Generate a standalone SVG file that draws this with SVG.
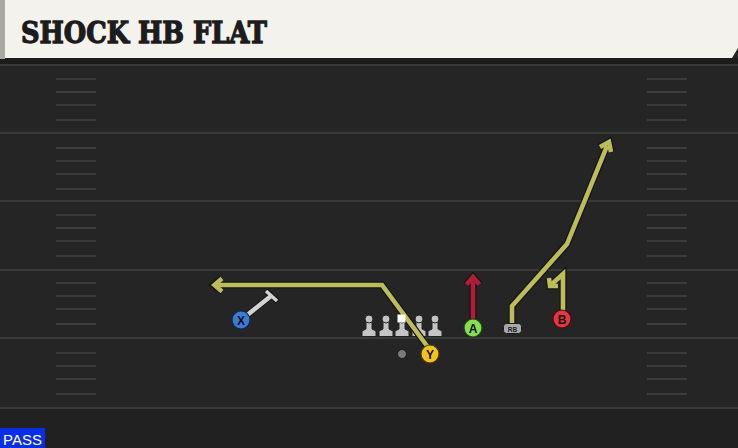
<svg xmlns="http://www.w3.org/2000/svg" width="738" height="448" viewBox="0 0 738 448">
<defs>
<style>
.yard{stroke:#3a3a3a;stroke-width:2}
.hash{stroke:#3b3b3b;stroke-width:2}
.route-o{fill:none;stroke:#141414;stroke-width:7;stroke-linejoin:miter;stroke-linecap:butt}
.route{fill:none;stroke:#bcbc5a;stroke-width:4.6;stroke-linejoin:miter;stroke-linecap:butt}
.lbl{font-family:"Liberation Sans",Arial,sans-serif;font-weight:bold;font-size:12px;fill:#111;text-anchor:middle}
.ol{fill:#c4c4c4;stroke:#222;stroke-width:1}
</style>
<g id="hashset">
<line class="hash" x1="0" y1="0" x2="40" y2="0"/>
<line class="hash" x1="0" y1="13" x2="40" y2="13"/>
<line class="hash" x1="0" y1="26" x2="40" y2="26"/>
<line class="hash" x1="0" y1="41" x2="40" y2="41"/>
</g>
<g id="lineman">
<path d="M-3,-12 L3,-12 L3,-4 L7,-2 L7,3.5 L-7,3.5 L-7,-2 L-3,-4 Z" class="ol"/>
<circle cx="0" cy="-14" r="4" class="ol"/>
</g>
</defs>
<rect width="738" height="448" fill="#252525"/>
<rect y="408" width="738" height="40" fill="#212121"/>
<rect y="58" width="738" height="7" fill="#1c1c1c"/>
<path d="M0,0 H738 V48 L732,58 H0 Z" fill="#f4f2ec"/>
<rect x="0" y="0" width="5" height="59" fill="#a9a9a6"/>
<text x="21" y="43" font-family="'DejaVu Serif',serif" font-weight="900" font-size="29" fill="#1c1c1c" stroke="#1c1c1c" stroke-width="1.3" textLength="246" lengthAdjust="spacingAndGlyphs">SHOCK HB FLAT</text>
<g id="field">
<line class="yard" x1="0" y1="65" x2="738" y2="65"/>
<line class="yard" x1="0" y1="133" x2="738" y2="133"/>
<line class="yard" x1="0" y1="201" x2="738" y2="201"/>
<line class="yard" x1="0" y1="270" x2="738" y2="270"/>
<line class="yard" x1="0" y1="338" x2="738" y2="338"/>
<line class="yard" x1="0" y1="408" x2="738" y2="408"/>
<use href="#hashset" x="56" y="79"/>
<use href="#hashset" x="56" y="148"/>
<use href="#hashset" x="56" y="215"/>
<use href="#hashset" x="56" y="283"/>
<use href="#hashset" x="56" y="353"/>
<use href="#hashset" x="647" y="79"/>
<use href="#hashset" x="647" y="148"/>
<use href="#hashset" x="647" y="215"/>
<use href="#hashset" x="647" y="283"/>
<use href="#hashset" x="647" y="353"/>
</g>
<g id="line">
<use href="#lineman" x="369" y="333"/>
<use href="#lineman" x="386" y="333"/>
<use href="#lineman" x="402" y="333"/>
<use href="#lineman" x="419" y="333"/>
<use href="#lineman" x="435" y="333"/>
</g>
<g id="connectors">
<g id="route-x">
<line x1="246" y1="316" x2="271" y2="296" stroke="#141414" stroke-width="6.5"/>
<line x1="265.5" y1="290.5" x2="277.5" y2="301.5" stroke="#141414" stroke-width="5.5"/>
<line x1="246" y1="316" x2="271" y2="296" stroke="#d2d2d2" stroke-width="4.5"/>
<line x1="266" y1="291" x2="277" y2="301" stroke="#d2d2d2" stroke-width="3.5"/>
</g>
<g id="route-y">
<path class="route-o" d="M430,350 L382,285 L220,285"/>
<path d="M222,278.5 L214,285 L222,291.5" fill="none" stroke="#141414" stroke-width="7"/>
<path class="route" d="M430,350 L382,285 L218,285"/>
<path d="M222,278.5 L214.5,285 L222,291.5" fill="none" stroke="#bcbc5a" stroke-width="4.6"/>
</g>
<g id="route-a">
<line x1="473" y1="320" x2="473" y2="280" stroke="#141414" stroke-width="7"/>
<path d="M466.5,284.5 L473,277 L479.5,284.5" fill="none" stroke="#141414" stroke-width="7"/>
<line x1="473" y1="320" x2="473" y2="279" stroke="#b01c3a" stroke-width="4.6"/>
<path d="M466.5,284.5 L473,277 L479.5,284.5" fill="none" stroke="#b01c3a" stroke-width="4.6"/>
</g>
<g id="route-rb">
<path class="route-o" d="M512,324 L512,306 L567,244 L607,146"/>
<path d="M600,147 L609,142 L611,152" fill="none" stroke="#141414" stroke-width="7"/>
<path class="route" d="M512,324 L512,306 L567,244 L607,146"/>
<path d="M600,147 L609,142 L611,152" fill="none" stroke="#bcbc5a" stroke-width="4.6"/>
</g>
<g id="route-b">
<path class="route-o" d="M563,312 L563,274 L552,284"/>
<path d="M549,278 L550,286 L558,286" fill="none" stroke="#141414" stroke-width="7"/>
<path class="route" d="M563,312 L563,274 L552,284"/>
<path d="M549,278 L550,286 L558,286" fill="none" stroke="#bcbc5a" stroke-width="4.6"/>
</g>
</g>
<g id="center-marker"><rect x="397.5" y="314.5" width="8" height="8" fill="#ffffff"/></g>
<g id="qb"><circle cx="402" cy="354" r="4.5" fill="#7a7a7a" stroke="#1a1a1a" stroke-width="1"/></g>
<g id="node-x"><circle cx="241" cy="320" r="9" fill="#3d7ad6" stroke="#14284a" stroke-width="1.2"/><text class="lbl" x="241" y="324.5">X</text></g>
<g id="node-y"><circle cx="430" cy="354" r="9" fill="#f2c21f" stroke="#4a3a08" stroke-width="1.2"/><text class="lbl" x="430" y="358.5">Y</text></g>
<g id="node-a"><circle cx="473" cy="328" r="9" fill="#86dd50" stroke="#1e4a10" stroke-width="1.2"/><text class="lbl" x="473" y="332.5">A</text></g>
<g id="node-b"><circle cx="562" cy="319" r="9" fill="#e8343e" stroke="#4a0d10" stroke-width="1.2"/><text class="lbl" x="562" y="323.5">B</text></g>
<g id="node-rb"><rect x="503.5" y="323.5" width="18" height="10" rx="3" fill="#a8a8a8" stroke="#1a1a1a" stroke-width="1"/><text x="512.5" y="331.5" font-family="'Liberation Sans',Arial,sans-serif" font-weight="bold" font-size="6.5" fill="#222" text-anchor="middle">RB</text></g>
<g id="pass"><rect x="0" y="428" width="45" height="20" fill="#0a2ee6"/><text x="3" y="445" font-family="'Liberation Sans',Arial,sans-serif" font-size="15" fill="#ffffff">PASS</text></g>
</svg>
